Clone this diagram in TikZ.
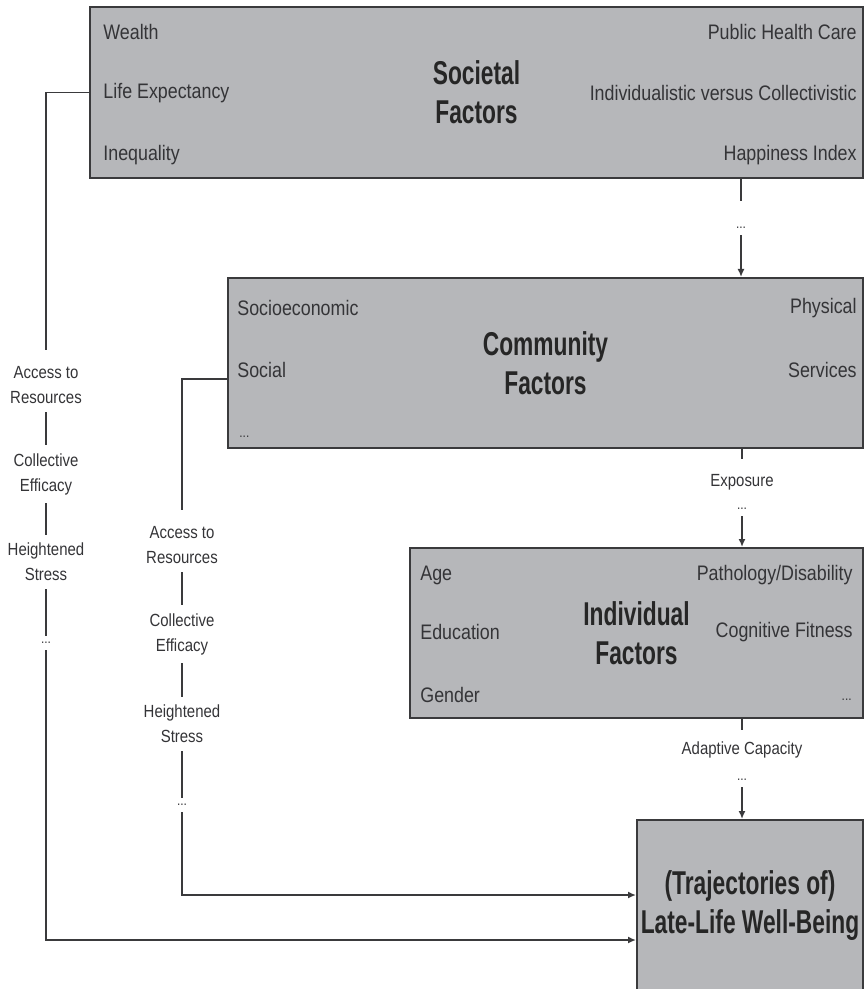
\documentclass[tikz,border=0pt]{standalone}
\usepackage{fontspec}
\setmainfont{Liberation Sans}[FakeStretch=0.85]
\newfontfamily\titlefont{Liberation Sans}[FakeStretch=0.69]
\usetikzlibrary{arrows.meta}

\definecolor{boxgray}{RGB}{182,183,186}
\definecolor{edgegray}{RGB}{58,58,60}
\definecolor{txtgray}{RGB}{52,52,55}

\begin{document}
\begin{tikzpicture}[x=0.5pt, y=-0.5pt, font=\fontsize{10.5}{12}\selectfont, text=txtgray,
  factor/.style={draw=edgegray, line width=1pt, fill=boxgray, inner sep=0pt, align=center,
    font=\fontsize{16.5}{19.5}\titlefont\bfseries, text=black!85},
  item/.style={inner sep=1pt},
  lbl/.style={font=\fontsize{8.8}{12.5}\selectfont, align=center, inner sep=4pt},
  more/.style={font=\fontsize{7}{8}\selectfont, inner sep=3pt},
  link/.style={draw=edgegray, line width=0.8pt},
  arr/.style={link, -{Latex[length=4pt,width=3.5pt]}}]
	\useasboundingbox (0,0) rectangle (865,989);
	% the four boxes
	\node[factor, minimum width=386.5pt, minimum height=85.5pt] (soc) at (476.5,92.5) {Societal\\Factors};
	\node[factor, minimum width=317.5pt, minimum height=85pt] (com) at (545.5,363) {Community\\Factors};
	\node[factor, minimum width=226.5pt, minimum height=85pt] (ind) at (636.5,633) {Individual\\Factors};
	\node[factor, minimum width=113pt, minimum height=86pt] (well) at (750,906) {(Trajectories of)\\Late-Life Well-Being};
	% societal items
	\node[item, anchor=west] (wealth) at (101,32) {Wealth};
	\node[item, anchor=west] (life) at (101,93) {Life Expectancy};
	\node[item, anchor=west] (ineq) at (101,155) {Inequality};
	\node[item, anchor=east] (health) at (859,32) {Public Health Care};
	\node[item, anchor=east] (indiv) at (859,93) {Individualistic versus Collectivistic};
	\node[item, anchor=east] (happy) at (859,155) {Happiness Index};
	% community items
	\node[item, anchor=west] (socio) at (235,308) {Socioeconomic};
	\node[item, anchor=west] (social) at (235,370) {Social};
	\node[more, anchor=west] (cmore) at (233,437) {...};
	\node[item, anchor=east] (phys) at (859,308) {Physical};
	\node[item, anchor=east] (serv) at (859,370) {Services};
	% individual items
	\node[item, anchor=west] (age) at (418,575) {Age};
	\node[item, anchor=west] (edu) at (418,632) {Education};
	\node[item, anchor=west] (gender) at (418,695) {Gender};
	\node[item, anchor=east] (patho) at (855,575) {Pathology/Disability};
	\node[item, anchor=east] (cogn) at (855,632) {Cognitive Fitness};
	\node[more, anchor=east] (imore) at (858,700) {...};

	% down the right side
	\node[more] (dsoc) at (741,228) {...};
	\draw[link] (dsoc |- soc.south) -- ++(0,22);
	\draw[arr] (dsoc) -- (dsoc |- com.north);
	\node[lbl] (expo) at (742,482) {Exposure};
	\node[more] (dexpo) at (742,509) {...};
	\draw[link] (expo |- com.south) -- ++(0,10);
	\draw[arr] (dexpo) -- (dexpo |- ind.north);
	\node[lbl] (adapt) at (742,750) {Adaptive Capacity};
	\node[more] (dadapt) at (742,780) {...};
	\draw[link] (adapt |- ind.south) -- ++(0,11);
	\draw[arr] (dadapt) -- (dadapt |- well.north);

	% outer path from societal factors
	\node[lbl] (accA) at (46,385) {Access to\\Resources};
	\node[lbl] (colA) at (46,474) {Collective\\Efficacy};
	\node[lbl] (heiA) at (46,562) {Heightened\\Stress};
	\node[more] (dotA) at (46,643) {...};
	\draw[link, shorten >=4pt] (soc.west) -| (accA);
	\draw[link] (accA) -- (colA);
	\draw[link] (colA) -- (heiA);
	\draw[link] (heiA) -- (dotA);
	\draw[arr] (dotA) |- ([yshift=-17pt]well.west);

	% inner path from community factors
	\node[lbl] (accB) at (182,545) {Access to\\Resources};
	\node[lbl] (colB) at (182,634) {Collective\\Efficacy};
	\node[lbl] (heiB) at (182,724) {Heightened\\Stress};
	\node[more] (dotB) at (182,805) {...};
	\draw[link, shorten >=4pt] ([yshift=-8pt]com.west) -| (accB);
	\draw[link] (accB) -- (colB);
	\draw[link] (colB) -- (heiB);
	\draw[link] (heiB) -- (dotB);
	\draw[arr] (dotB) |- ([yshift=5.5pt]well.west);
\end{tikzpicture}
\end{document}
